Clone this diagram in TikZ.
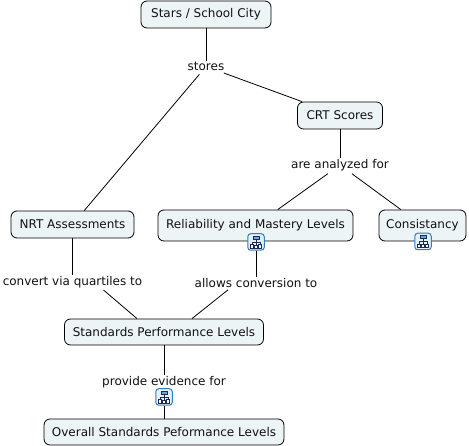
\documentclass[tikz,border=0pt]{standalone}
\usepackage{xcolor}
\usepackage{fontspec}
\setmainfont{DejaVu Sans}
\usetikzlibrary{positioning}
\definecolor{conceptFill}{HTML}{EDF4F6}
\definecolor{inkText}{HTML}{111111}
\definecolor{iconBlue}{HTML}{2F7FC1}
\definecolor{iconNavy}{HTML}{1B2A5A}
\definecolor{iconFill}{HTML}{E4EFF8}
\newcommand{\mapglyph}[1]{
  \draw[iconpart, fill=iconBlue!70] ([shift={(-3,-6)}]#1.center) rectangle ([shift={(3,-3)}]#1.center);
  \draw[iconpart] ([shift={(0,-3)}]#1.center) -- ([shift={(0,3)}]#1.center);
  \draw[iconpart] ([shift={(-4,2.5)}]#1.center) -- ([shift={(-4,0)}]#1.center) -- ([shift={(4,0)}]#1.center) -- ([shift={(4,2.5)}]#1.center);
  \draw[iconpart, fill=white] ([shift={(-5.5,2.5)}]#1.center) rectangle ([shift={(-2.5,6)}]#1.center);
  \draw[iconpart, fill=white] ([shift={(-1.2,3)}]#1.center) rectangle ([shift={(1.2,6)}]#1.center);
  \draw[iconpart, fill=white] ([shift={(2.5,2.5)}]#1.center) rectangle ([shift={(5.5,6)}]#1.center);
}
\begin{document}
\begin{tikzpicture}[
  x=1pt, y=-1pt,
  font=\fontsize{12}{14}\selectfont,
  concept/.style={draw=black, fill=conceptFill, rounded corners=6pt, text=inkText, align=center, inner sep=0pt, line width=0.8pt},
  linker/.style={fill=white, text=inkText, inner ysep=1pt, inner xsep=1pt},
  link/.style={draw=black, line width=0.8pt},
  mapicon/.style={draw=iconBlue, fill=iconFill, rounded corners=3pt, minimum size=16.5pt, inner sep=0pt, line width=1pt},
  iconpart/.style={draw=iconNavy, line width=0.7pt}
]
\useasboundingbox (0,0) rectangle (469,446);

% ---------- CONCEPTS ----------
\node[concept, minimum width=130pt, minimum height=27pt] (stars) at (206,14.5) {Stars / School City};
\node[concept, minimum width=85pt, minimum height=27pt] (crt) at (340,115.5) {CRT Scores};
\node[concept, minimum width=123pt, minimum height=27pt] (nrt) at (72.5,224.5) {NRT Assessments};
\node[concept, minimum width=195pt, minimum height=31pt] (reliab) at (255.5,225.5) {Reliability and Mastery Levels};
\node[concept, minimum width=87pt, minimum height=31pt] (consist) at (422.5,225.5) {Consistancy};
\node[concept, minimum width=199pt, minimum height=26pt] (standards) at (164,332) {Standards Performance Levels};
\node[concept, minimum width=240pt, minimum height=26pt] (overall) at (164,432) {Overall Standards Peformance Levels};

% ---------- LINKING PHRASES ----------
\node[linker] (stores) at (206,66.5) {stores};
\node[linker] (analyzed) at (340,165) {are analyzed for};
\node[linker] (quartiles) at (72.5,282) {convert via quartiles to};
\node[linker] (allows) at (256,283) {allows conversion to};
\node[linker] (evidence) at (164,382) {provide evidence for};

% ---------- ICONS ----------
\node[mapicon] (iconreliab) at (256,242) {};
\node[mapicon] (iconconsist) at (423,241.5) {};
\node[mapicon] (iconevidence) at (164,397) {};
\mapglyph{iconreliab}
\mapglyph{iconconsist}
\mapglyph{iconevidence}

% ---------- CONNECTORS ----------
\draw[link] (stars) -- (stores);
\draw[link, shorten <=3pt] (stores) -- (nrt);
\draw[link, shorten <=3pt] (stores) -- (crt);
\draw[link] (crt) -- (analyzed);
\draw[link, shorten <=3pt] (analyzed) -- (reliab);
\draw[link, shorten <=3pt] (analyzed) -- (consist);
\draw[link] (nrt) -- (quartiles);
\draw[link] ([xshift=31pt,yshift=-1pt]quartiles.south) -- ([xshift=-27pt]standards.north);
\draw[link] (iconreliab) -- (allows);
\draw[link] ([xshift=-28pt,yshift=-1pt]allows.south) -- ([xshift=28pt]standards.north);
\draw[link] (standards) -- (evidence);
\draw[link] (iconevidence) -- (overall);

\end{tikzpicture}
\end{document}
